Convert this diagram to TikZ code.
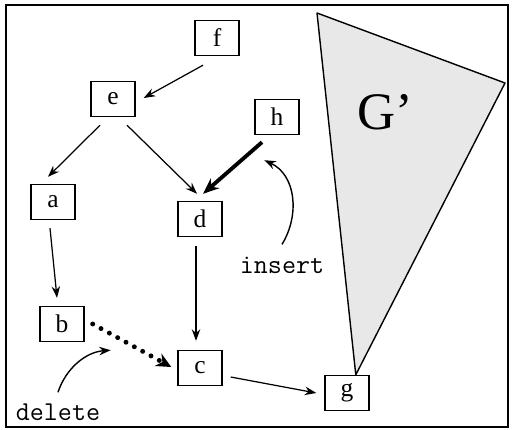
\documentclass[tikz,border=0pt]{standalone}
\usepackage{fontspec}
\setmainfont{Liberation Serif}
\usetikzlibrary{arrows.meta}
\tikzset{
  frame/.style={draw=black, line width=1.1pt},
  vertex/.style={draw=black, line width=0.8pt, minimum width=0.88cm, minimum height=0.7cm, inner sep=0pt, font=\fontsize{14.5}{16}\selectfont},
  edge/.style={draw=black, line width=0.7pt, -{Stealth[length=2.3mm,width=1.7mm]}},
  newedge/.style={draw=black, line width=2.2pt, -{Stealth[length=3.2mm,width=2.6mm]}},
  goneedge/.style={draw=black, line width=2.8pt, line cap=round, dash pattern=on 0pt off 5.4pt, -{Stealth[length=3mm,width=2.8mm]}},
  remark/.style={font=\ttfamily\fontsize{15.5}{17}\selectfont, inner sep=0pt},
  hint/.style={draw=black, line width=0.8pt, -{Stealth[length=2.3mm,width=1.7mm]}},
  subgraph/.style={draw=black, line width=0.8pt, fill=black!9, line join=round},
}

\begin{document}
\begin{tikzpicture}[x=0.02cm, y=-0.02cm]
\useasboundingbox (0,0) rectangle (513,429);
\draw[frame] (6,5) rectangle (508,427);
\node[vertex] (g) at (347,393) {g};
\draw[subgraph] (317,13) -- (505,83) -- ([xshift=5]g.north) -- cycle;
\node[font=\fontsize{30}{32}\selectfont] (gp) at (385,112) {G’};
\node[vertex] (f) at (217,38) {f};
\node[vertex] (e) at (113,99) {e};
\node[vertex] (a) at (53,202) {a};
\node[vertex] (d) at (200,219) {d};
\node[vertex] (h) at (277,117) {h};
\node[vertex] (b) at (62,324) {b};
\node[vertex] (c) at (200,368) {c};
\node[remark] (ins) at (282,265) {insert};
\node[remark] (del) at (58,412) {delete};
\draw[edge] ([shift={(-14,9)}]f.south) -- ([shift={(8,-1)}]e.east);
\draw[edge] ([shift={(-13,8)}]e.south) -- ([shift={(-5,-7)}]a.north);
\draw[edge] ([shift={(14,8)}]e.south) -- ([shift={(-3,-7)}]d.north);
\draw[newedge] ([shift={(-15,7)}]h.south) -- ([shift={(3,-7)}]d.north);
\draw[edge] ([shift={(-3,8)}]a.south) -- ([shift={(-5,-8)}]b.north);
\draw[edge] ([shift={(-4,9)}]d.south) -- ([shift={(-4,-9)}]c.north);
\draw[goneedge] ([shift={(8,0)}]b.east) -- ([shift={(-6,-1)}]c.west);
\draw[edge] ([shift={(8,9)}]c.east) -- ([shift={(-8,0)}]g.west);
\draw[hint] ([shift={(0,-12)}]ins.north) .. controls (300,215) and (296,175) .. ([shift={(10,25)}]h.south west);
\draw[hint] ([shift={(0,-11)}]del.north) .. controls (66,368) and (86,352) .. ([shift={(26,8)}]b.south east);
\end{tikzpicture}
\end{document}
